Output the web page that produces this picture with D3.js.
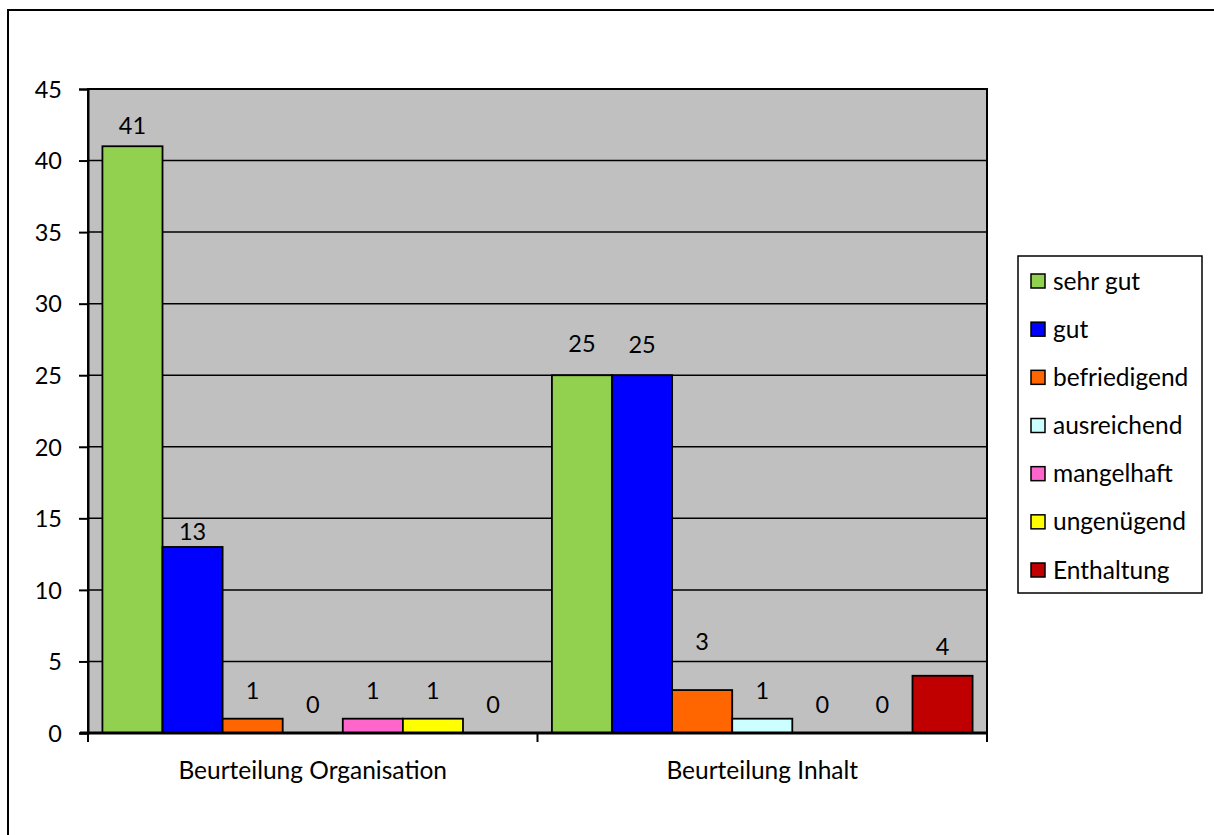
<!DOCTYPE html>
<html><head><meta charset="utf-8">
<script src="https://cdn.jsdelivr.net/npm/d3@7"></script>
<style>body{margin:0;background:#fff}svg{display:block}text{font-family:Lato,"Open Sans",sans-serif;fill:#000}</style>
</head><body>
<script>
const categories = ["Beurteilung Organisation", "Beurteilung Inhalt"];
const seriesNames = ["sehr gut", "gut", "befriedigend", "ausreichend", "mangelhaft", "ungenügend", "Enthaltung"];
const organisation = [41, 13, 1, 0, 1, 1, 0];
const inhalt = [25, 25, 3, 1, 0, 0, 4];
const yTicks = [0, 5, 10, 15, 20, 25, 30, 35, 40, 45];
const colors = ["#92D050", "#0000FF", "#FF6600", "#CCFFFF", "#FF66CC", "#FFFF00", "#C00000"];

const values = [organisation, inhalt];
// label baseline offset above bar top, per category/series (as in reference)
const labelGap = [[12, 7, 20, 20, 20, 20, 20], [23, 22, 40, 20, 20, 20, 21]];

const FS = 23.5, FSL = 24.5;
const W = 1214, H = 835;
const svg = d3.select("body").append("svg").attr("width", W).attr("height", H);
const plot = {l: 88, r: 987, t: 89, b: 733};

// outer chart border
svg.append("rect").attr("x", 8).attr("y", 10).attr("width", 1210).attr("height", 840)
  .attr("fill", "#fff").attr("stroke", "#000").attr("stroke-width", 2);

const y = d3.scaleLinear().domain([0, 45]).range([plot.b, plot.t]);
const x0 = d3.scaleBand().domain(categories).range([plot.l, plot.r]).padding(0);
const x1 = d3.scaleBand().domain(seriesNames).range([0, x0.bandwidth()]).paddingInner(0).paddingOuter(0.24);

svg.append("rect").attr("x", plot.l).attr("y", plot.t).attr("width", plot.r - plot.l).attr("height", plot.b - plot.t)
  .attr("fill", "#C0C0C0");

// gridlines
svg.append("g").selectAll("line").data(yTicks.filter(d => d > 0)).join("line")
  .attr("x1", plot.l).attr("x2", plot.r).attr("y1", d => y(d)).attr("y2", d => y(d))
  .attr("stroke", "#000").attr("stroke-width", 1.5);

// plot border
svg.append("rect").attr("x", plot.l).attr("y", plot.t).attr("width", plot.r - plot.l).attr("height", plot.b - plot.t)
  .attr("fill", "none").attr("stroke", "#000").attr("stroke-width", 2);

// bars
const groups = svg.append("g").selectAll("g").data(categories).join("g")
  .attr("transform", d => `translate(${x0(d)},0)`);
groups.each(function(cat, ci) {
  const g = d3.select(this);
  const data = seriesNames.map((s, si) => ({s, si, v: values[ci][si]}));
  g.selectAll("rect").data(data.filter(d => d.v > 0)).join("rect")
    .attr("x", d => x1(d.s)).attr("width", x1.bandwidth())
    .attr("y", d => y(d.v)).attr("height", d => y(0) - y(d.v))
    .attr("fill", d => colors[d.si]).attr("stroke", "#000").attr("stroke-width", 1.8);
  g.selectAll("text").data(data).join("text")
    .attr("x", d => x1(d.s) + x1.bandwidth() / 2)
    .attr("y", d => y(d.v) - labelGap[ci][d.si])
    .attr("text-anchor", "middle").attr("font-size", FS).text(d => d.v);
});

// y axis
const yAxis = svg.append("g").attr("transform", `translate(${plot.l},0)`)
  .call(d3.axisLeft(y).tickValues(yTicks).tickSize(9).tickPadding(17));
yAxis.select(".domain").attr("stroke", "#000").attr("stroke-width", 2);
yAxis.selectAll(".tick line").attr("stroke", "#000").attr("stroke-width", 2);
yAxis.selectAll("text").attr("font-size", FS).attr("font-family", "Lato,sans-serif").attr("dy", "0.35em");

// x axis
const xAxis = svg.append("g").attr("transform", `translate(0,${plot.b})`)
  .call(d3.axisBottom(x0).tickSize(0).tickPadding(29));
xAxis.select(".domain").attr("stroke", "#000").attr("stroke-width", 3).attr("d", `M${plot.l - 8},0H${plot.r}`);
xAxis.selectAll("text").attr("font-size", FSL).attr("font-family", "Lato,sans-serif");
const xb = [plot.l, plot.l + x0.step(), plot.r];
svg.append("g").selectAll("line").data(xb).join("line")
  .attr("x1", d => d).attr("x2", d => d).attr("y1", plot.b).attr("y2", plot.b + 9)
  .attr("stroke", "#000").attr("stroke-width", 2);

// legend
const lg = svg.append("g");
lg.append("rect").attr("x", 1018).attr("y", 256).attr("width", 184).attr("height", 337)
  .attr("fill", "#fff").attr("stroke", "#000").attr("stroke-width", 1.5);
const ly = d3.scalePoint().domain(seriesNames).range([281, 570]);
const li = lg.selectAll("g.item").data(seriesNames).join("g").attr("class", "item")
  .attr("transform", d => `translate(1031,${ly(d)})`);
li.append("rect").attr("x", 0).attr("y", -7).attr("width", 14).attr("height", 14)
  .attr("fill", (d, i) => colors[i]).attr("stroke", "#000").attr("stroke-width", 1.5);
li.append("text").attr("x", 22).attr("y", 0).attr("dy", "0.35em").attr("font-size", FSL).text(d => d);
</script>
</body></html>
